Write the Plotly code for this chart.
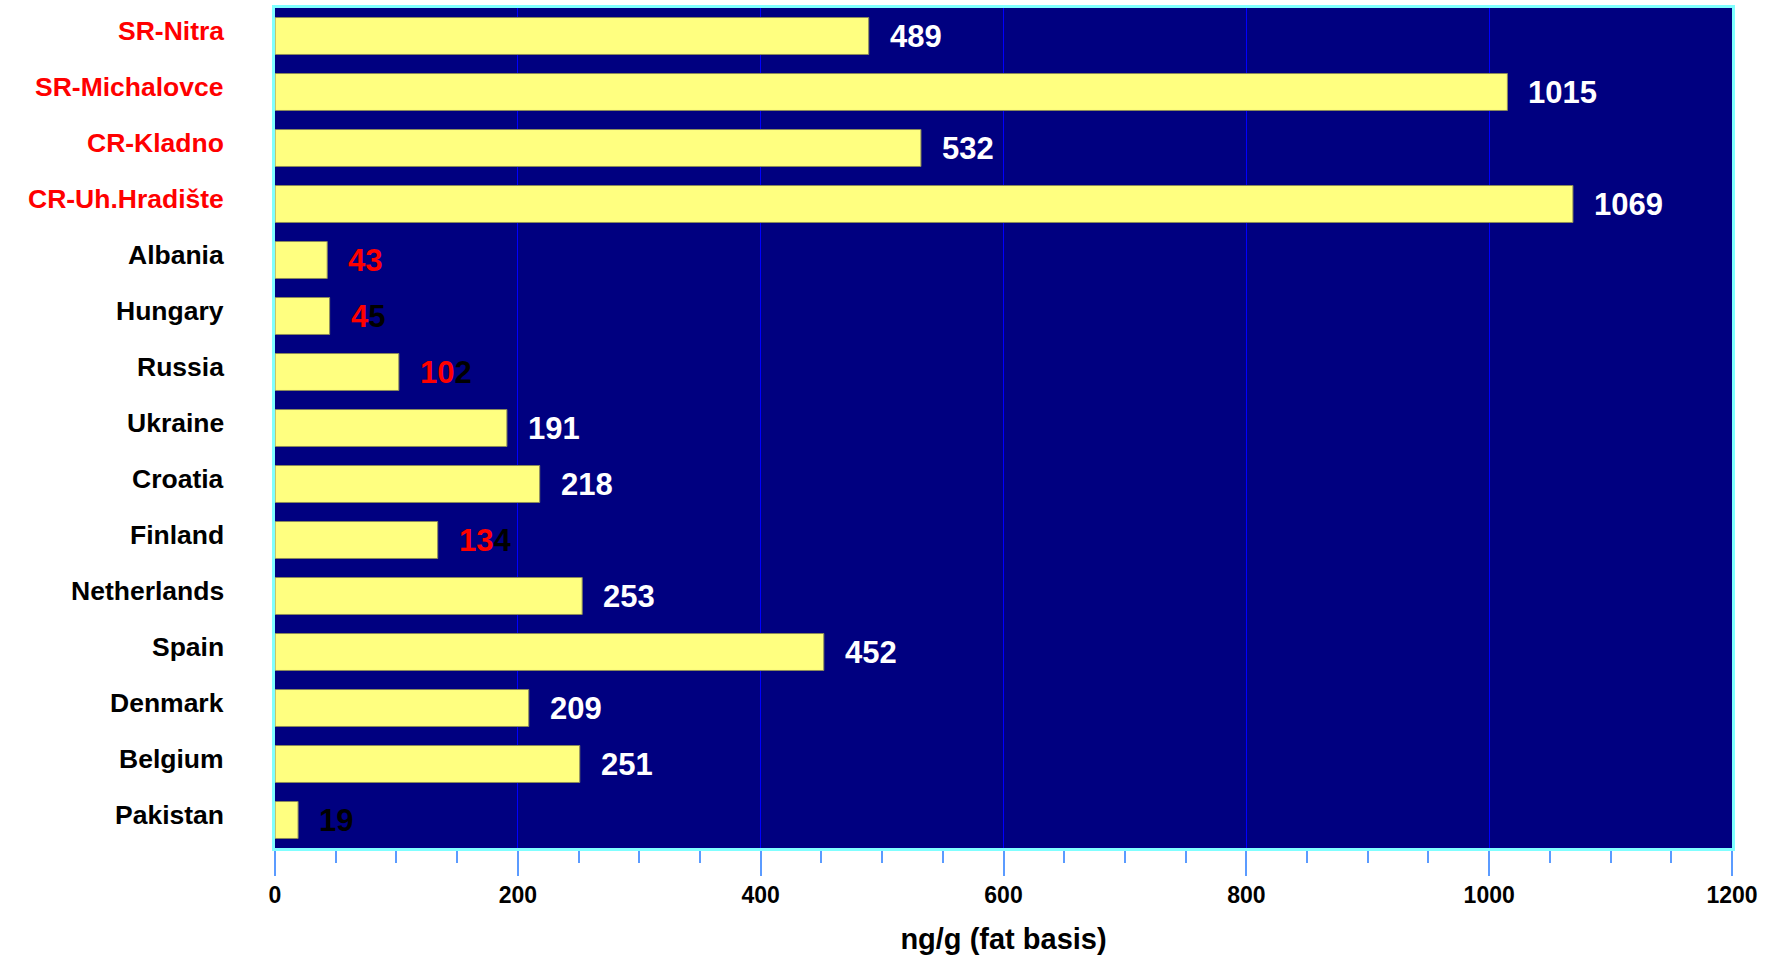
import plotly.graph_objects as go

categories = ["SR-Nitra", "SR-Michalovce", "CR-Kladno", "CR-Uh.Hradište", "Albania",
              "Hungary", "Russia", "Ukraine", "Croatia", "Finland", "Netherlands",
              "Spain", "Denmark", "Belgium", "Pakistan"]
values = [489, 1015, 532, 1069, 43, 45, 102, 191, 218, 134, 253, 452, 209, 251, 19]
category_colors = ["#ff0000"] * 4 + ["#000000"] * 11
# number of leading digits drawn in red, and colour of the remaining digits
label_red_digits = [0, 0, 0, 0, 2, 1, 2, 0, 0, 2, 0, 0, 0, 0, 0]
label_rest_colors = ["#ffffff", "#ffffff", "#ffffff", "#ffffff", "#000000", "#000000",
                     "#000000", "#ffffff", "#ffffff", "#000000", "#ffffff", "#ffffff",
                     "#ffffff", "#ffffff", "#000000"]
x_ticks = [0, 200, 400, 600, 800, 1000, 1200]
x_title = "ng/g (fat basis)"

FONT = "Liberation Sans, Arial, sans-serif"

fig = go.Figure()
fig.add_trace(go.Bar(
    x=values, y=categories, orientation="h",
    marker=dict(color="#ffff80", line=dict(color="#8a8a5a", width=1)),
    hoverinfo="x+y",
))

for cat, v, nred, rest in zip(categories, values, label_red_digits, label_rest_colors):
    s = str(v)
    txt = ""
    if nred > 0:
        txt += f"<span style='color:#ff0000'>{s[:nred]}</span>"
    if nred < len(s):
        txt += f"<span style='color:{rest}'>{s[nred:]}</span>"
    fig.add_annotation(x=v, y=cat, text=f"<b>{txt}</b>", showarrow=False,
                       xanchor="left", yanchor="middle", xshift=19, yshift=0,
                       font=dict(family=FONT, size=31, color=rest))

# category labels as annotations (allows per-label colour and vertical offset)
for cat, col in zip(categories, category_colors):
    fig.add_annotation(x=0, xref="paper", y=cat, yref="y", text=f"<b>{cat}</b>",
                       showarrow=False, xanchor="right", yanchor="middle",
                       xshift=-49, yshift=5,
                       font=dict(family=FONT, size=26.5, color=col))

fig.update_layout(
    width=1772, height=959,
    margin=dict(l=275, r=40, t=5, b=111),
    paper_bgcolor="#ffffff", plot_bgcolor="#000080",
    bargap=0.34, showlegend=False,
    font=dict(family=FONT, color="#000000"),
    xaxis=dict(
        range=[0, 1200], tickvals=x_ticks, ticktext=[str(t) for t in x_ticks],
        showgrid=True, gridcolor="#0000ff", gridwidth=1,
        ticks="outside", ticklen=25, tickcolor="#5b9bff", tickwidth=1.5,
        minor=dict(dtick=50, ticks="outside", ticklen=12, tickcolor="#5b9bff",
                   tickwidth=1.5, showgrid=False),
        showline=True, linecolor="#80ffff", linewidth=2.5, mirror=True,
        tickfont=dict(family=FONT, size=23, color="#000000", weight="bold"),
        title=dict(text=x_title, standoff=22,
                   font=dict(family=FONT, size=29, color="#000000", weight="bold")),
        zeroline=False, fixedrange=True,
    ),
    yaxis=dict(
        categoryorder="array", categoryarray=categories, autorange="reversed",
        showticklabels=False, showgrid=False, ticks="",
        showline=True, linecolor="#80ffff", linewidth=2.5, mirror=True,
        fixedrange=True,
    ),
)

fig.write_html("out.html")
